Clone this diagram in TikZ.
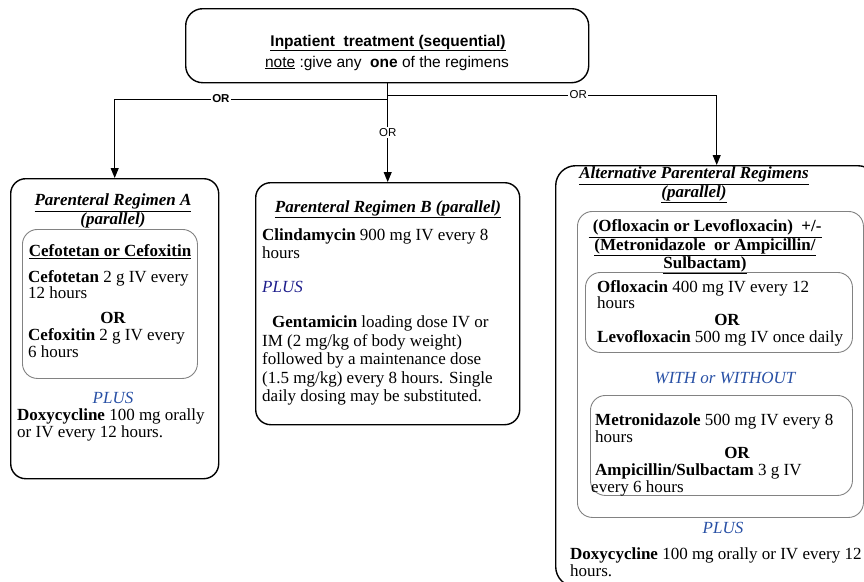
\documentclass[tikz,border=0pt]{standalone}
\usepackage{fontspec}
\setmainfont{Liberation Serif}
\setsansfont{Liberation Sans}
\usetikzlibrary{arrows.meta}
\tikzset{txt/.style={font=\fontsize{17}{#1}\selectfont, inner sep=0pt, align=left}, txt/.default=17}
\tikzset{hd/.style={font=\fontsize{17}{#1}\selectfont\bfseries\itshape, inner sep=0pt, align=center}, hd/.default=17}
\tikzset{sfont/.style={font=\sffamily\fontsize{15.5}{20}\selectfont, inner sep=0pt}}
\tikzset{orlab/.style={font=\sffamily\fontsize{11.5}{12}\selectfont, fill=white, inner sep=1.5pt}}
\tikzset{big/.style={draw, line width=1.4pt, rounded corners=15pt, anchor=north west, inner sep=0pt}}
\tikzset{sub/.style={draw=boxgray, line width=0.9pt, rounded corners=15pt, anchor=north west, inner sep=0pt}}
\tikzset{arr/.style={line width=1pt, -{Triangle[length=10pt,width=8pt]}}}
\definecolor{plusblue}{RGB}{40,80,165}
\definecolor{navyblue}{RGB}{30,30,140}
\definecolor{boxgray}{RGB}{130,130,130}

\begin{document}
\begin{tikzpicture}[x=1pt, y=-1pt]
        \useasboundingbox (0,0) rectangle (864,581);
        % top box
        \node[big, minimum width=403pt, minimum height=74pt, rounded corners=17pt] (top) at (185,8) {};
        \node[sfont, font=\sffamily\bfseries\fontsize{15.5}{20}\selectfont] (topttl) at (388,43) {\underline{Inpatient\ \ treatment (sequential)}};
        \node[sfont] (topnote) at (387,63) {\underline{note} :give any\ \ \textbf{one} of the regimens};
        % regimen A
        \node[big, minimum width=208pt, minimum height=300pt] (A) at (10,178) {};
        \node[hd] (Attl) at (113,212) {\underline{Parenteral Regimen A}\\\underline{(parallel)}};
        \node[sub, minimum width=175pt, minimum height=149pt] (Ain) at (22,229) {};
        \node[txt, font=\fontsize{17}{17}\selectfont\bfseries] (Ahd) at (110,252) {\underline{Cefotetan or Cefoxitin}};
        \node[txt=16, anchor=north west] (Acef1) at (28,270.5) {\textbf{Cefotetan} 2 g IV every\\12 hours};
        \node[txt, font=\fontsize{17}{17}\selectfont\bfseries] (Aor) at (113,318) {OR};
        \node[txt, anchor=north west] (Acef2) at (28,328.5) {\textbf{Cefoxitin} 2 g IV every\\6 hours};
        \node[txt, font=\fontsize{17}{17}\selectfont\itshape, text=plusblue] (Aplus) at (113,398) {PLUS};
        \node[txt, anchor=north west] (Adoxy) at (17,408) {\textbf{Doxycycline} 100 mg orally\\or IV every 12 hours.};
        % regimen B
        \node[big, minimum width=264pt, minimum height=242pt] (B) at (255,182) {};
        \node[hd] (Bttl) at (388,209) {\underline{Parenteral Regimen B (parallel)}};
        \node[txt=18, anchor=north west] (Bcli) at (262,228.5) {\textbf{Clindamycin} 900 mg IV every 8\\hours};
        \node[txt, font=\fontsize{17}{17}\selectfont\itshape, text=navyblue, anchor=west] (Bplus) at (262,287) {PLUS};
        \node[txt=18.5, anchor=north west] (Bgen) at (262,315.5) {\hspace*{10pt}\textbf{Gentamicin} loading dose IV or\\IM (2 mg/kg of body weight)\\followed by a maintenance dose\\(1.5 mg/kg) every 8 hours. Single\\daily dosing may be substituted.};
        % alternative regimens
        \node[big, minimum width=322pt, minimum height=421pt, rounded corners=20pt] (alt) at (555,165) {};
        \node[hd=16] (Cttl) at (694,185) {\underline{Alternative Parenteral Regimens}\\\underline{(parallel)}};
        \node[sub, minimum width=286pt, minimum height=306pt] (Cin) at (577,211) {};
        \node[txt=16.5, font=\fontsize{17}{16.5}\selectfont\bfseries, align=center] (Chd) at (705,247) {\underline{\ (Ofloxacin or Levofloxacin)\ \ +/-}\\\underline{(Metronidazole\ \ or Ampicillin/}\\\underline{Sulbactam)}};
        \node[sub, minimum width=267pt, minimum height=80pt] (Cin1) at (585,272) {};
        \node[txt=16, anchor=north west] (Coflo) at (597,280.5) {\textbf{Ofloxacin} 400 mg IV every 12\\hours};
        \node[txt, font=\fontsize{17}{17}\selectfont\bfseries] (Cor1) at (727,320) {OR};
        \node[txt, anchor=west] (Clevo) at (597,338) {\textbf{Levofloxacin} 500 mg IV once daily};
        \node[txt, font=\fontsize{17}{17}\selectfont\itshape, text=plusblue] (Cwith) at (725,378) {WITH or WITHOUT};
        \node[sub, minimum width=262pt, minimum height=100pt] (Cin2) at (590,395) {};
        \node[txt=16.5, anchor=north west] (Cmet) at (595,413.5) {\textbf{Metronidazole} 500 mg IV every 8\\hours};
        \node[txt, font=\fontsize{17}{17}\selectfont\bfseries] (Cor2) at (737,453) {OR};
        \node[txt, anchor=north west] (Camp) at (595,463.5) {\textbf{Ampicillin/Sulbactam} 3 g IV\\\hspace*{-4pt}every 6 hours};
        \node[txt, font=\fontsize{17}{17}\selectfont\itshape, text=plusblue] (Cplus) at (723,528) {PLUS};
        \node[txt, anchor=north west] (Cdoxy) at (570,547.5) {\textbf{Doxycycline} 100 mg orally or IV every 12\\hours.};
        % connectors
        \coordinate (jl) at (387,99);
        \coordinate (jr) at (387,95);
        \draw[arr] (top.south -| B.north) -- node[orlab] {OR} (B.north);
        \draw[arr] (jl) -- node[orlab, pos=.61, font=\sffamily\bfseries\fontsize{11.5}{12}\selectfont] {OR} (jl -| A.north) -- (A.north);
        \draw[arr] (jr) -- node[orlab, pos=.58] {OR} (jr -| alt.north) -- (alt.north);
      \end{tikzpicture}
\end{document}
